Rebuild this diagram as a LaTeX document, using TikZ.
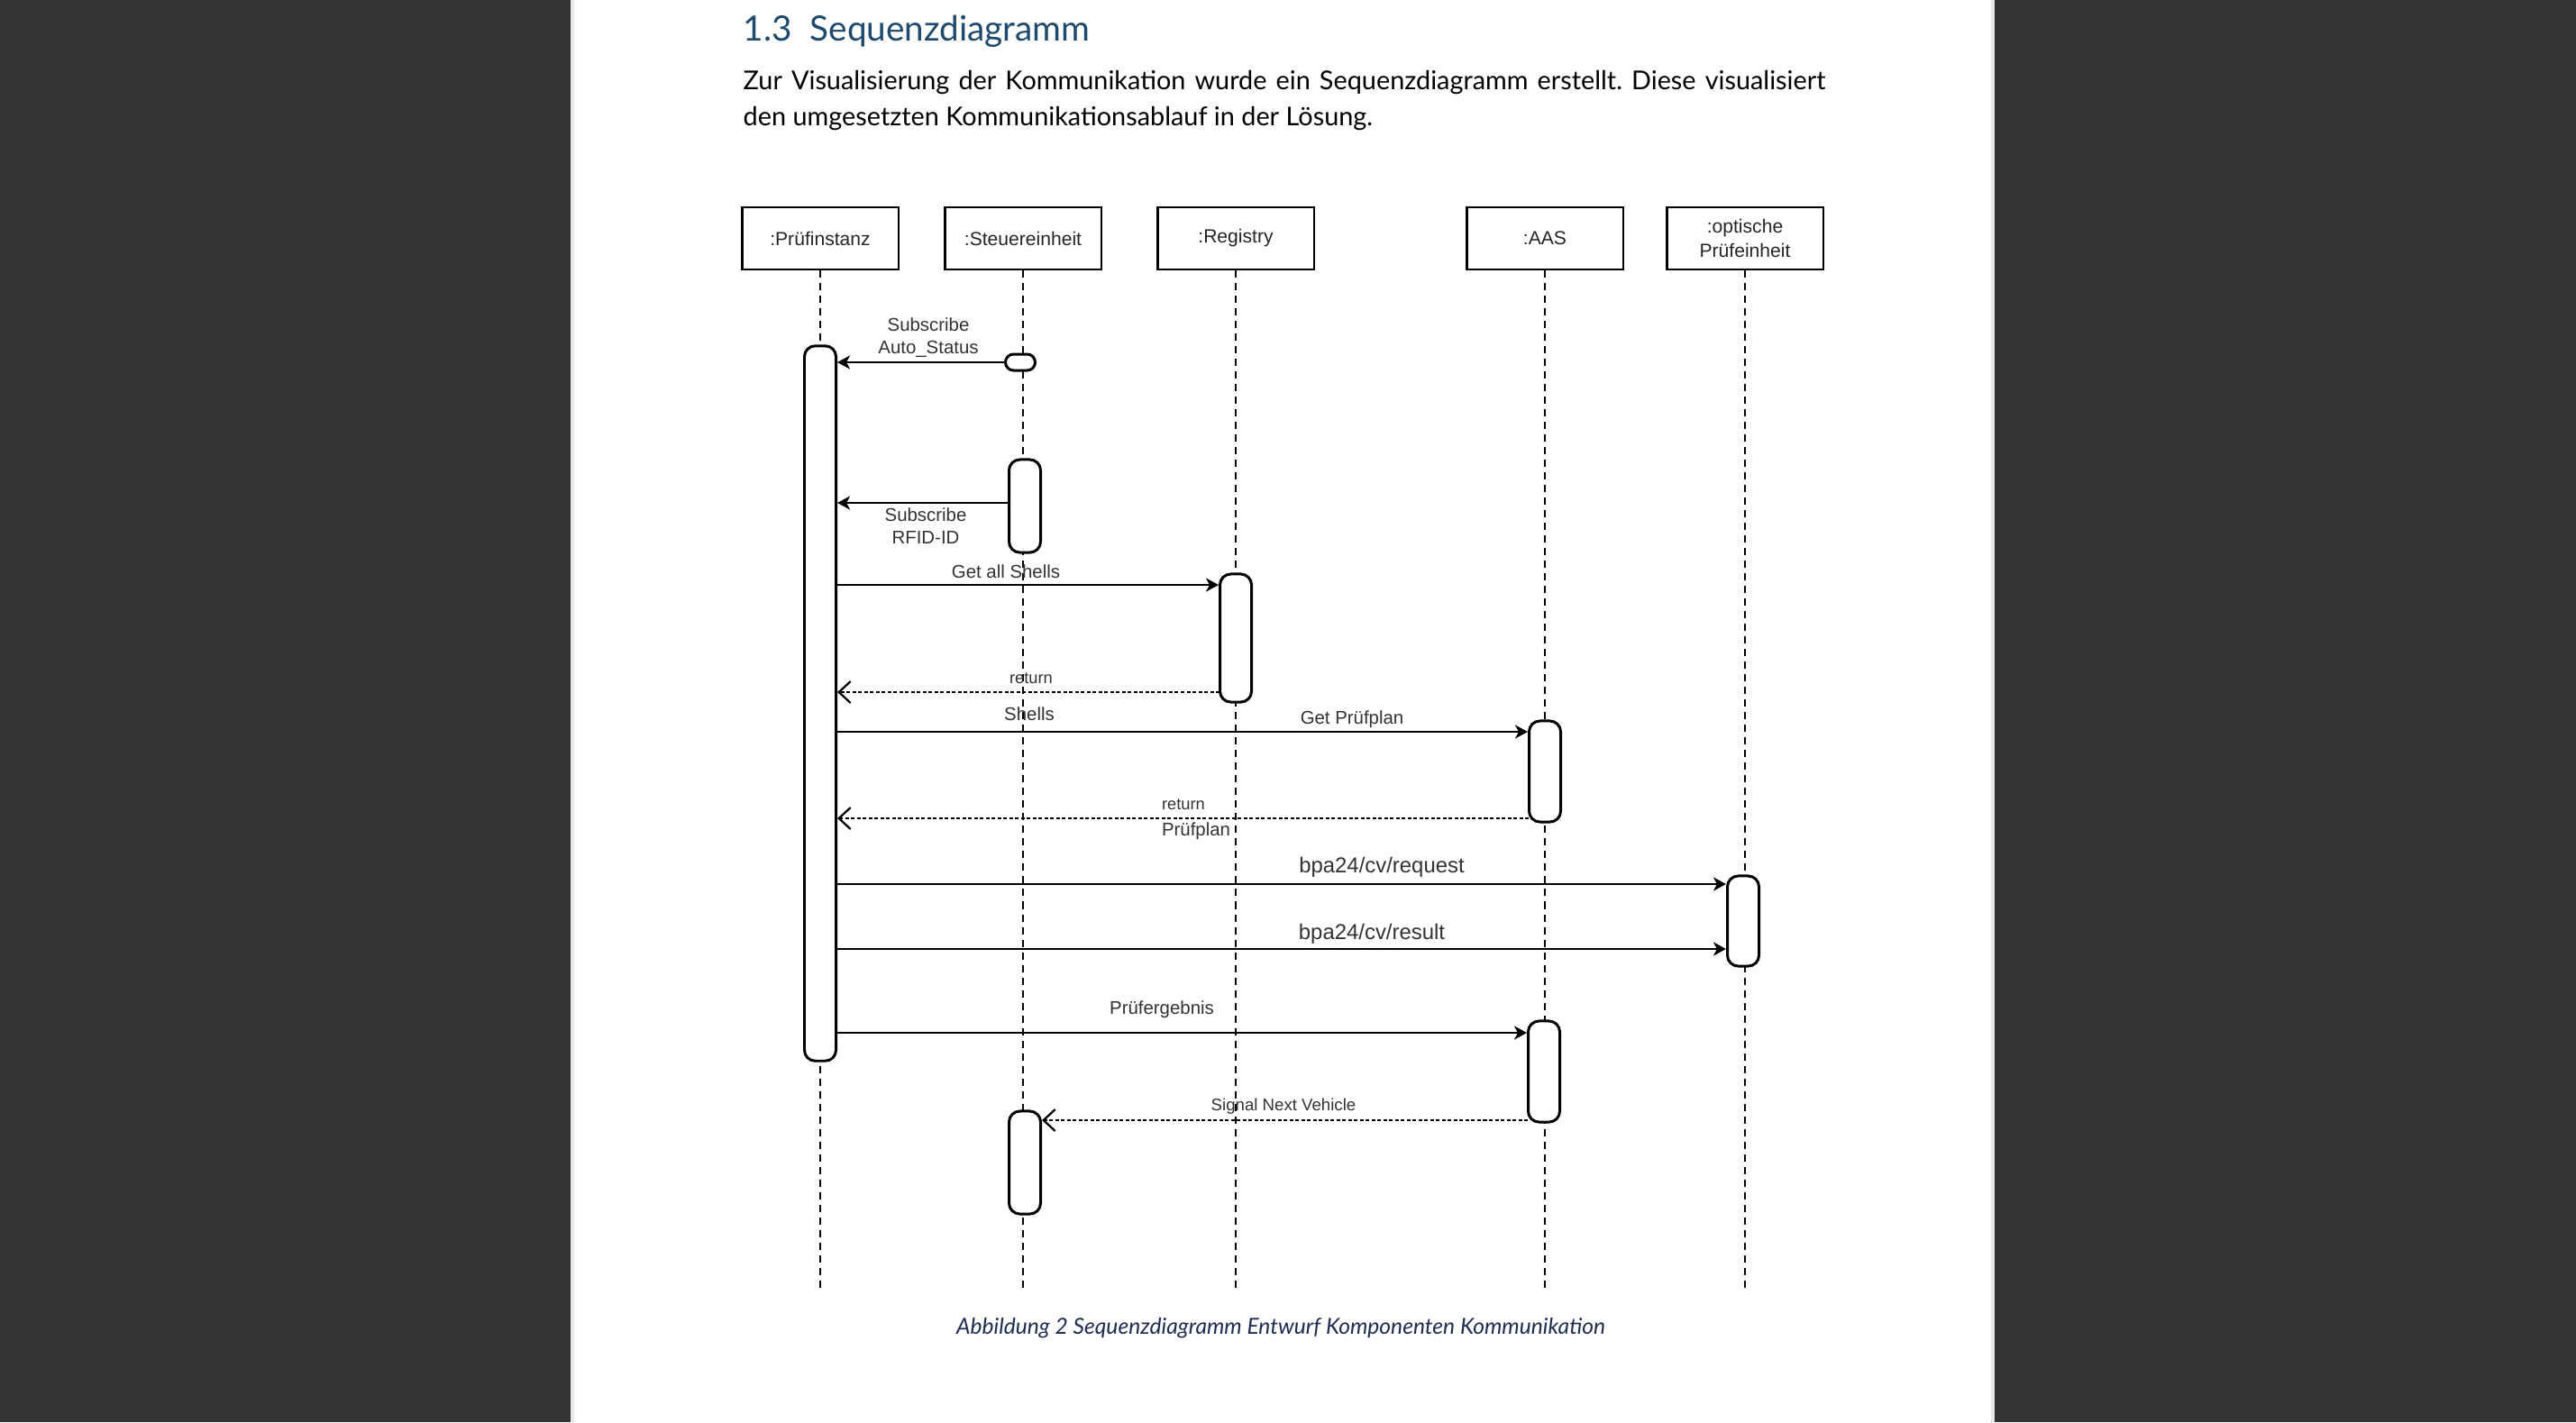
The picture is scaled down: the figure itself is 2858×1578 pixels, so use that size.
\documentclass[tikz,border=0pt]{standalone}
\usepackage{fontspec}
\setmainfont{Lato}
\newfontfamily\dfont{Liberation Sans}
\usetikzlibrary{arrows.meta,calc}
\definecolor{bggray}{RGB}{51,51,51}
\definecolor{edgegray}{RGB}{232,232,232}
\definecolor{titleblue}{RGB}{31,74,107}
\definecolor{capblue}{RGB}{30,45,80}
\frenchspacing
\begin{document}
\begin{tikzpicture}[x=0.01cm,y=-0.01cm,
  hdr/.style={draw, line width=0.6pt, minimum width=1.73cm, minimum height=0.69cm, inner sep=0pt,
    font=\dfont\fontsize{6}{7.7}\selectfont, align=center, text=black!85},
  act/.style={draw, line width=0.85pt, fill=white, rounded corners=1.2mm, minimum width=0.35cm, inner sep=0pt},
  life/.style={line width=0.4pt, dash pattern=on 0.8mm off 0.6mm},
  msg/.style={line width=0.7pt, -{Stealth[length=1.4mm,width=1.5mm,inset=0.4mm]}},
  ret/.style={line width=0.65pt, dash pattern=on 0.4mm off 0.25mm, -{Straight Barb[length=1.3mm,width=2.4mm]}},
  lbl/.style={font=\dfont\fontsize{5.8}{7.1}\selectfont, align=center, inner sep=0pt, text=black!80},
  lblsmall/.style={lbl, font=\dfont\fontsize{5.2}{6.2}\selectfont},
  lblbig/.style={lbl, font=\dfont\fontsize{6.8}{8}\selectfont},
  body/.style={anchor=base west, inner sep=0pt, font=\fontsize{8.2}{10}\selectfont, text=black},
]
\useasboundingbox (0,0) rectangle (2858,1578);
% page and background
\fill[bggray] (0,0) rectangle (2858,1578);
\fill[white] (633,0) rectangle (2213,1578);
\fill[edgegray] (633,0) rectangle (637,1578);
\fill[edgegray] (2209,0) rectangle (2213,1578);

% heading and body text
\node[anchor=base west, inner sep=0pt, text=titleblue, font=\fontsize{11}{13}\selectfont] (title) at (824,45) {1.3\hspace{2.0mm}Sequenzdiagramm};
\node[body] (p1) at (824,99) {\makebox[12.0cm][s]{Zur Visualisierung der Kommunikation wurde ein Sequenzdiagramm erstellt. Diese visualisiert}};
\node[body] (p2) at (824,139) {den umgesetzten Kommunikationsablauf in der Lösung.};

% participants
\node[hdr] (hP) at (910,264.5) {:Prüfinstanz};
\node[hdr] (hS) at (1135,264.5) {:Steuereinheit};
\node[hdr] (hR) at (1371,264.5) {:Registry};
\node[hdr] (hA) at (1714,264.5) {:AAS};
\node[hdr] (hO) at (1936,264.5) {:optische\\Prüfeinheit};

% lifeline ends
\coordinate (eP) at (910,1430);
\coordinate (eS) at (1135,1430);
\coordinate (eR) at (1371,1430);
\coordinate (eA) at (1714,1430);
\coordinate (eO) at (1936,1430);
\draw[life] (hP.south) -- (eP);
\draw[life] (hS.south) -- (eS);
\draw[life] (hR.south) -- (eR);
\draw[life] (hA.south) -- (eA);
\draw[life] (hO.south) -- (eO);

% activations
\node[act, minimum height=7.93cm] (aP) at (910,780.5) {};
\node[act, minimum width=0.33cm, minimum height=0.18cm, rounded corners=0.9mm] (sE) at (1132,402) {};
\node[act, minimum height=1.03cm] (s2) at (1137,561.5) {};
\node[act, minimum height=1.42cm] (r1) at (1371,708) {};
\node[act, minimum height=1.12cm] (a1) at (1714,856) {};
\node[act, minimum height=1.00cm] (o1) at (1934,1022) {};
\node[act, minimum height=1.12cm] (a2) at (1713,1189) {};
\node[act, minimum height=1.14cm] (s3) at (1137,1290) {};

% message levels
\coordinate (m2) at (1119,558);
\coordinate (m3) at (928,649);
\coordinate (m4) at (1353,768);
\coordinate (m5) at (928,812);
\coordinate (m6) at (1696,908);
\coordinate (m7) at (928,981);
\coordinate (m8) at (928,1053);
\coordinate (m9) at (928,1146);
\coordinate (m10) at (1695,1243);

% messages
\draw[msg] (sE.west) -- (sE.west -| aP.east);
\draw[msg] (m2) -- (m2 -| aP.east);
\draw[msg] (m3) -- (m3 -| r1.west);
\draw[ret] (m4) -- (m4 -| aP.east);
\draw[msg] (m5) -- (m5 -| a1.west);
\draw[ret] (m6) -- (m6 -| aP.east);
\draw[msg] (m7) -- (m7 -| o1.west);
\draw[msg] (m8) -- (m8 -| o1.west);
\draw[msg] (m9) -- (m9 -| a2.west);
\draw[ret] (m10) -- (m10 -| s3.east);

% labels
\node[lbl] (l1) at (1030,374.5) {Subscribe\\Auto\_Status};
\node[lbl] (l2) at (1027,583.5) {Subscribe\\RFID-ID};
\node[lbl] (l3) at (1116,634) {Get all Shells};
\node[lblsmall] (l4a) at (1144,753) {return};
\node[lbl] (l4b) at (1142,792) {Shells};
\node[lbl] (l5) at (1500,798) {Get Prüfplan};
\node[lblsmall] (l6a) at (1313,893) {return};
\node[lbl] (l6b) at (1327,922) {Prüfplan};
\node[lblbig] (l7) at (1533,962) {bpa24/cv/request};
\node[lblbig] (l8) at (1522,1036) {bpa24/cv/result};
\node[lbl] (l9) at (1289,1120) {Prüfergebnis};
\node[lbl, font=\dfont\fontsize{5.3}{6.3}\selectfont] (l10) at (1424,1228) {Signal Next Vehicle};

% caption
\node[anchor=base, inner sep=0pt, text=capblue, font=\itshape\fontsize{7.0}{8.4}\selectfont] (cap) at (1421,1480) {Abbildung 2 Sequenzdiagramm Entwurf Komponenten Kommunikation};
\end{tikzpicture}
\end{document}
